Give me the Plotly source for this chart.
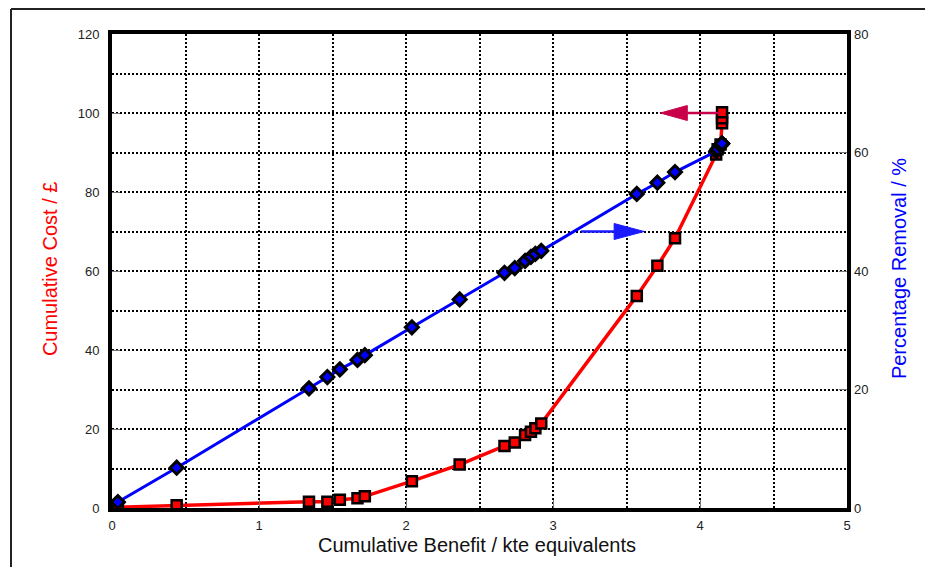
import plotly.graph_objects as go

# Data
benefit = [0.04, 0.44, 1.34, 1.465, 1.55, 1.67, 1.72, 2.04, 2.365, 2.67, 2.74, 2.81,
           2.85, 2.88, 2.92, 3.57, 3.71, 3.83, 4.11, 4.12, 4.14, 4.15, 4.15, 4.15]
cost = [0.2, 0.7, 1.6, 1.6, 2.1, 2.45, 2.95, 6.8, 11.0, 15.7, 16.6, 18.5,
        19.3, 20.2, 21.4, 53.7, 61.3, 68.3, 89.5, 90.8, 92.0, 97.4, 98.7, 100.2]
removal = [1.0, 6.8, 20.2, 22.1, 23.4, 25.0, 25.8, 30.5, 35.2, 39.7, 40.5, 41.7,
           42.4, 42.9, 43.4, 53.0, 54.9, 56.7, 60.2, 60.6, 61.2, 61.5, 61.5, 61.5]

x_ticks = [0, 1, 2, 3, 4, 5]
cost_ticks = [0, 20, 40, 60, 80, 100, 120]
removal_ticks = [0, 20, 40, 60, 80]

# Axis-indicator arrows (data coordinates on the cost axis)
red_arrow = dict(tip_x=3.73, tail_x=4.14, y=100, color="#c8004a")
blue_arrow = dict(tip_x=3.62, tail_x=3.19, y=70, color="#1a1aff")

FONT = "Liberation Sans, Arial, sans-serif"
GRID = dict(griddash="2px,2px", gridcolor="black", gridwidth=1.5)

fig = go.Figure()
fig.add_trace(go.Scatter(
    x=benefit, y=cost, mode="lines+markers", yaxis="y",
    line=dict(color="#ff0000", width=3.5),
    marker=dict(symbol="square", size=10, color="#ff0000",
                line=dict(color="black", width=2.5)),
    showlegend=False))
fig.add_trace(go.Scatter(
    x=benefit, y=removal, mode="lines+markers", yaxis="y2",
    line=dict(color="#0000ff", width=3),
    marker=dict(symbol="diamond", size=10, color="#0000ff",
                line=dict(color="black", width=3)),
    showlegend=False))

fig.update_layout(
    width=925, height=567,
    margin=dict(l=112, r=78, t=34, b=59),
    paper_bgcolor="white", plot_bgcolor="white",
    font=dict(family=FONT, size=13, color="#222222"),
    xaxis=dict(range=[0, 5], tickvals=x_ticks, showline=True, linewidth=4,
               linecolor="black", mirror=True, ticks="inside", ticklen=8,
               tickcolor="#777777", zeroline=False, showgrid=True, **GRID,
               minor=dict(dtick=0.5, showgrid=True, **GRID),
               ticklabelstandoff=2,
               tickfont=dict(size=13, family=FONT, color="#222222")),
    yaxis=dict(range=[0, 120], tickvals=cost_ticks, showline=True, linewidth=4,
               linecolor="black", mirror=True, ticks="inside", ticklen=8,
               tickcolor="#777777", zeroline=False, showgrid=True, **GRID,
               minor=dict(dtick=10, showgrid=True, **GRID),
               ticklabelstandoff=6,
               tickfont=dict(size=13, family=FONT, color="#222222")),
    yaxis2=dict(range=[0, 80], tickvals=removal_ticks, overlaying="y",
                side="right", showline=False, ticks="inside", ticklen=8,
                tickcolor="#777777", zeroline=False, showgrid=False,
                ticklabelstandoff=6,
                tickfont=dict(size=13, family=FONT, color="#222222")),
)

# Axis titles
fig.add_annotation(text="Cumulative Cost / £", xref="paper", yref="paper",
                   x=-0.0844, y=0.506, xanchor="center", yanchor="middle",
                   textangle=-90, showarrow=False,
                   font=dict(size=20, color="#ff0000", family=FONT))
fig.add_annotation(text="Percentage Removal / %", xref="paper", yref="paper",
                   x=1.0707, y=0.506, xanchor="center", yanchor="middle",
                   textangle=-90, showarrow=False,
                   font=dict(size=20, color="#0000ff", family=FONT))
fig.add_annotation(text="Cumulative Benefit / kte equivalents", xref="paper",
                   yref="paper", x=0.4966, y=-0.078, xanchor="center",
                   yanchor="middle", showarrow=False,
                   font=dict(size=20, color="#111111", family=FONT))

# Arrows: thin shaft + elongated triangular head
PX_X = 5 / 735.0     # data units per pixel (x)
PX_Y = 120 / 474.0   # data units per pixel (cost axis)
for arr, head_len, half_h in ((red_arrow, 27, 7.5), (blue_arrow, 30, 8)):
    direction = 1 if arr["tail_x"] > arr["tip_x"] else -1
    base_x = arr["tip_x"] + direction * head_len * PX_X
    fig.add_shape(type="line", xref="x", yref="y",
                  x0=base_x, x1=arr["tail_x"], y0=arr["y"], y1=arr["y"],
                  line=dict(color=arr["color"], width=2.5))
    hy = half_h * PX_Y
    fig.add_shape(type="path", xref="x", yref="y",
                  path=(f"M {arr['tip_x']} {arr['y']} L {base_x} {arr['y'] + hy} "
                        f"L {base_x} {arr['y'] - hy} Z"),
                  fillcolor=arr["color"], line=dict(color=arr["color"], width=1))

# Outer frame (top and left edges)
fig.add_shape(type="line", xref="paper", yref="paper", x0=-0.1374, x1=1.2,
              y0=1.0527, y1=1.0527, line=dict(color="#222222", width=2))
fig.add_shape(type="line", xref="paper", yref="paper", x0=-0.1374, x1=-0.1374,
              y0=1.0527, y1=-0.2, line=dict(color="#222222", width=2))

fig.write_html("out.html")
